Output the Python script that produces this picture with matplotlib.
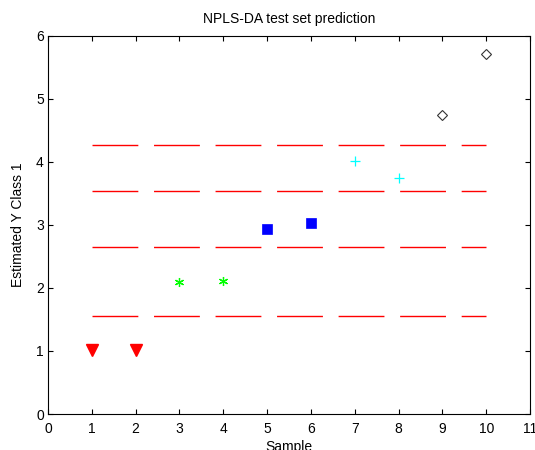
import matplotlib
matplotlib.use("Agg")
import matplotlib.pyplot as plt

plt.rcParams["font.family"] = ["Liberation Sans", "DejaVu Sans"]
plt.rcParams["lines.scale_dashes"] = False

# predicted Y for class 1, one entry per test sample
samples = [1, 2, 3, 4, 5, 6, 7, 8, 9, 10]
y_pred = [1.02, 1.02, 2.09, 2.11, 2.93, 3.03, 4.01, 3.75, 4.74, 5.71]
# class groups: (sample indices, marker, colour)
groups = [
    ([0, 1], "v", "red"),
    ([2, 3], (6, 2, 0), "#00ff00"),
    ([4, 5], "s", "blue"),
    ([6, 7], "+", "cyan"),
    ([8, 9], "D", "#333333"),
]
# class thresholds
thresholds = [1.562, 2.652, 3.532, 4.264]

fig = plt.figure(figsize=(5.35, 4.5), dpi=100)
ax = fig.add_axes([0.0897, 0.08, 0.9010, 0.8407])

for thr in thresholds:
    ax.plot([samples[0], samples[-1]], [thr, thr], color="#ff0000", linewidth=1.0,
            linestyle=(0, (33.0, 11.3)))

for idx, mk, col in groups:
    xs = [samples[i] for i in idx]
    ys = [y_pred[i] for i in idx]
    if mk == "v":
        ax.plot(xs, ys, linestyle="none", marker=mk, markersize=8.5, color=col)
    elif mk == "s":
        ax.plot(xs, ys, linestyle="none", marker=mk, markersize=7, color=col,
                markeredgewidth=0.5)
    elif mk == "D":
        ax.plot(xs, ys, linestyle="none", marker=mk, markersize=5.3,
                markerfacecolor="none", markeredgecolor=col, markeredgewidth=0.8)
    else:
        ax.plot(xs, ys, linestyle="none", marker=mk, markersize=6.5, color=col,
                markeredgewidth=0.9)

ax.set_xlim(0, 11)
ax.set_ylim(0, 6)
ax.set_xticks(range(0, 12))
ax.set_yticks(range(0, 7))
ax.tick_params(direction="in", length=3.6, width=0.8, top=True, right=True,
               labelsize=10, pad=3)
ax.tick_params(axis="x", pad=6)
for sp in ax.spines.values():
    sp.set_linewidth(0.8)

ax.set_title("NPLS-DA test set prediction", fontsize=10, pad=9)
ax.set_xlabel("Sample", fontsize=10, labelpad=3)
ax.set_ylabel("Estimated Y Class 1", fontsize=10, labelpad=8)

fig.savefig("out.png", dpi=100)
